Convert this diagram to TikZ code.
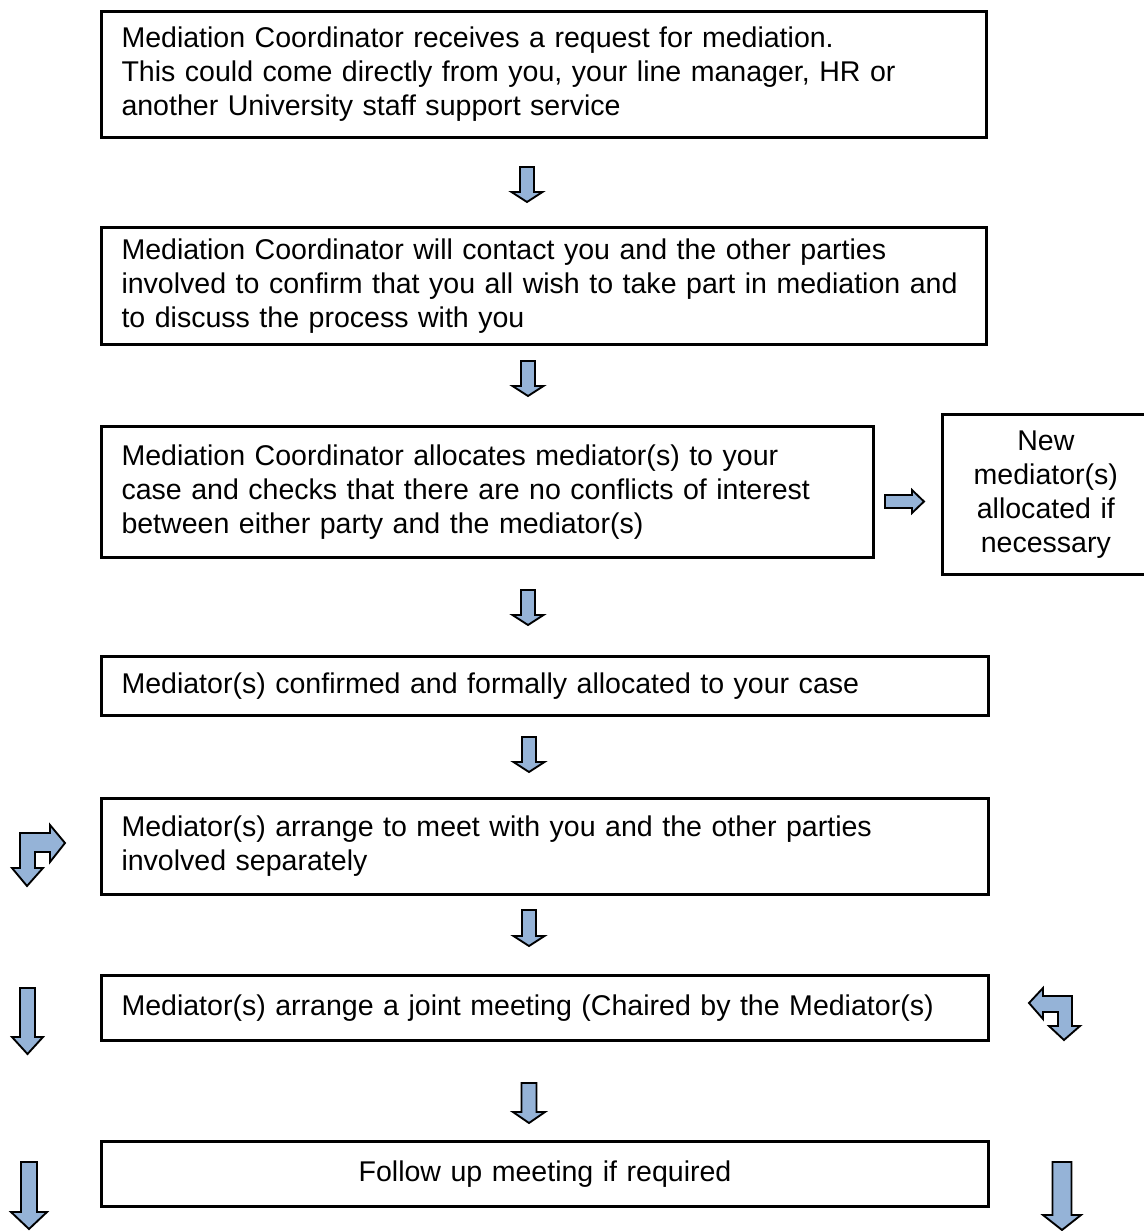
\documentclass[tikz,border=0pt]{standalone}
\usepackage{fontspec}
\setmainfont{Liberation Sans}
\usetikzlibrary{positioning}
\definecolor{arrowblue}{HTML}{95B3D7}
% x, top, tip, shaft half width, head half width, head length
\newcommand\blockdown[6]{%
  \draw[blockarrow] ({#1-#4},#2) -- ({#1+#4},#2) -- ({#1+#4},{#3-#6}) -- ({#1+#5},{#3-#6})
    -- (#1,#3) -- ({#1-#5},{#3-#6}) -- ({#1-#4},{#3-#6}) -- cycle;}

\begin{document}
\begin{tikzpicture}[x=0.48pt, y=-0.48pt,
    box/.style={draw, line width=1.44pt, inner xsep=9.6pt, inner ysep=0pt,
        align=left, anchor=north west, font=\fontsize{13.7}{16.3}\selectfont},
    blockarrow/.style={draw, fill=arrowblue, line width=0.9pt, line join=miter}]
    \useasboundingbox (0,0) rectangle (1144,1231);

    \node[box, minimum width=424.8pt, minimum height=60.48pt, text width=405.6pt] (request) at (100,10)
        {Mediation Coordinator receives a request for mediation.\\
         This could come directly from you, your line manager, HR or\\
         another University staff support service};
    \node[box, minimum width=424.8pt, minimum height=56.16pt, text width=405.6pt] (contact) at (100,226)
        {Mediation Coordinator will contact you and the other parties\\
         involved to confirm that you all wish to take part in mediation and\\
         to discuss the process with you};
    \node[box, minimum width=370.6pt, minimum height=62.88pt, text width=351.4pt] (allocate) at (100,425)
        {Mediation Coordinator allocates mediator(s) to your\\
         case and checks that there are no conflicts of interest\\
         between either party and the mediator(s)};
    \node[box, minimum width=96.5pt, minimum height=76.8pt, text width=80pt, align=center] (newmed) at (941,413)
        {New\\ mediator(s)\\ allocated if\\ necessary};
    \node[box, minimum width=425.8pt, minimum height=28.3pt, text width=406.6pt] (confirmed) at (100,655)
        {Mediator(s) confirmed and formally allocated to your case};
    \node[box, minimum width=425.8pt, minimum height=46.1pt, text width=406.6pt] (separate) at (100,797)
        {Mediator(s) arrange to meet with you and the other parties\\
         involved separately};
    \node[box, minimum width=425.8pt, minimum height=31.2pt, text width=406.6pt] (joint) at (100,974)
        {Mediator(s) arrange a joint meeting (Chaired by the Mediator(s)};
    \node[box, minimum width=425.8pt, minimum height=31.2pt, text width=406.6pt, align=center] (followup) at (100,1140)
        {Follow up meeting if required};

    % arrows between the boxes
    \blockdown{527}{167}{202}{7}{15.5}{10}
    \blockdown{528}{361}{396}{7}{15.5}{10}
    \blockdown{528}{590}{625}{7}{15.5}{10}
    \blockdown{529}{737}{772}{7}{15.5}{10}
    \blockdown{529}{910}{946}{7}{15.5}{10}
    \blockdown{529}{1083}{1123}{7.5}{16}{11}
    \draw[blockarrow] (885,495) -- (912,495) -- (912,490) -- (924,501.5) -- (912,513)
        -- (912,508) -- (885,508) -- cycle;

    % side arrows
    \draw[blockarrow] (27,886) -- (12,868) -- (20,868) -- (20,833) -- (50,833) -- (50,825)
        -- (65,843) -- (50,862) -- (50,852) -- (35,852) -- (35,868) -- (43,868) -- cycle;
    \draw[blockarrow] (1029,1003) -- (1043,988) -- (1043,996) -- (1072,996) -- (1072,1026)
        -- (1080,1026) -- (1064,1040) -- (1049,1026) -- (1058,1026) -- (1058,1012)
        -- (1043,1012) -- (1043,1019) -- cycle;
    \blockdown{27.5}{988}{1054}{7.5}{15.5}{17}
    \blockdown{29}{1162}{1229}{8}{18}{17}
    \blockdown{1062}{1162}{1230}{9.5}{19}{15}
\end{tikzpicture}
\end{document}
